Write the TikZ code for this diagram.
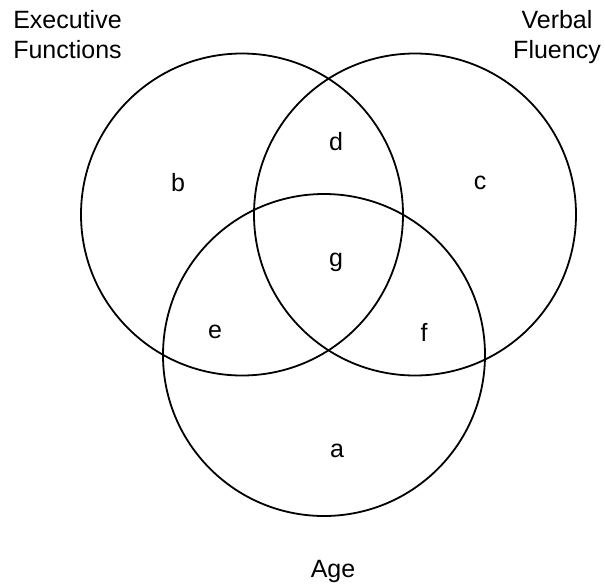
\documentclass[tikz,border=0pt]{standalone}
\usepackage{fontspec}
\setmainfont{Liberation Sans}
\begin{document}
\begin{tikzpicture}[x=1pt,y=-1pt,
  set/.style={draw=black,line width=1.8pt,circle,minimum size=322pt,inner sep=0pt},
  region/.style={font=\fontsize{25}{30}\selectfont,inner sep=0pt},
  title/.style={font=\fontsize{25}{30}\selectfont,align=center,inner sep=0pt}]
  \useasboundingbox (0,0) rectangle (605,584);
  % the three sets
  \node[set] (ef) at (242,214.5) {};
  \node[set] (vf) at (415,214.5) {};
  \node[set] (age) at (324,355) {};
  % set titles (base anchor sits on the last line)
  \node[title,anchor=base] (efl) at (67.5,58) {Executive\\Functions};
  \node[title,anchor=base] (vfl) at (557,58) {Verbal\\Fluency};
  \node[region,anchor=base] (agel) at (333,577) {Age};
  % region labels
  \node[region] (rb) at (178,183) {b};
  \node[region] (rd) at (336,142) {d};
  \node[region] (rc) at (480,183) {c};
  \node[region] (rg) at (336,262) {g};
  \node[region] (re) at (215,332) {e};
  \node[region] (rf) at (424,332) {f};
  \node[region] (ra) at (337,451) {a};
\end{tikzpicture}
\end{document}
